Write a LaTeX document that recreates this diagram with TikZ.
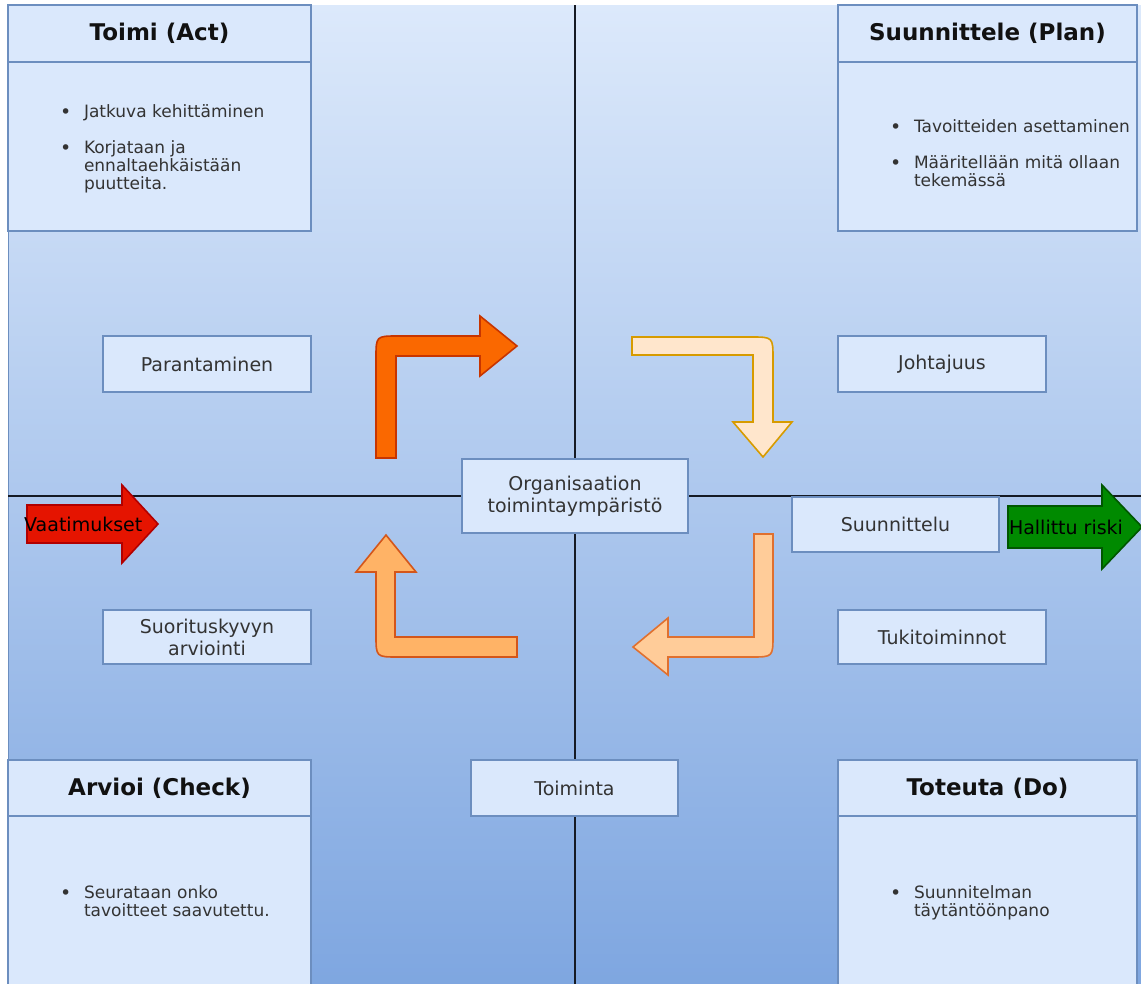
\documentclass[tikz,border=0pt]{standalone}
\usepackage{fontspec}
\setmainfont{DejaVu Sans}
\definecolor{boxfill}{HTML}{DAE8FC}
\definecolor{boxline}{HTML}{6C8EBF}
\definecolor{bgtop}{RGB}{220,233,251}
\definecolor{bgbot}{RGB}{126,166,224}
\definecolor{txtgray}{HTML}{333333}
\definecolor{ttlc}{HTML}{111111}
\definecolor{divc}{HTML}{151A24}
\definecolor{oaF}{HTML}{FA6800}
\definecolor{oaS}{HTML}{C73500}
\definecolor{obF}{HTML}{FFE6CC}
\definecolor{obS}{HTML}{D79B00}
\definecolor{ocF}{HTML}{FFCC99}
\definecolor{ocS}{HTML}{E0702F}
\definecolor{odF}{HTML}{FFB366}
\definecolor{odS}{HTML}{D4561A}
\definecolor{redF}{HTML}{E51400}
\definecolor{redS}{HTML}{B20000}
\definecolor{grnF}{HTML}{008A00}
\definecolor{grnS}{HTML}{005700}
\newcommand{\rbox}[7]{\node[#6,minimum width={#4-#2},minimum height={#5-#3}] (#1) at ({(#2+#4)/2},{(#3+#5)/2}) {#7};}
\newcommand{\blt}{\makebox[24pt][l]{\raisebox{-0.5pt}{\fontsize{19}{19}\selectfont\textbullet}}}
\begin{document}
\begin{tikzpicture}[x=1pt,y=-1pt,
  box/.style={draw=boxline,fill=boxfill,line width=1.4pt,inner sep=0pt,outer sep=0pt,align=center,text=txtgray},
  lbl/.style={box,font=\fontsize{19}{22}\selectfont},
  ttl/.style={box,font=\fontsize{23}{27}\selectfont\bfseries,text=ttlc},
  lst/.style={inner sep=0pt,outer sep=0pt,anchor=west,text=txtgray,font=\fontsize{17}{17}\selectfont},
  divider/.style={draw=divc,line width=2pt},
  bigarrow/.style={line width=1.6pt,line join=miter},
  alabel/.style={inner sep=0pt,font=\fontsize{19}{22}\selectfont,text=black}]
\useasboundingbox (0,0) rectangle (1141,983);
\clip (0,0) rectangle (1141,983);
% background
\path[top color=bgtop,bottom color=bgbot] (8,5) rectangle (1145,990);
\draw[boxline,line width=1pt] (8,5) -- (8,990);
% dividers
\coordinate (vt) at (575,5);
\coordinate (vb) at (575,990);
\coordinate (hl) at (8,495.5);
\coordinate (hr) at (1145,495.5);
\draw[divider] (vt) -- (vb);
\draw[divider] (hl) -- (hr);
% bent arrows
\path[draw=oaS,fill=oaF,bigarrow] (376,458) -- (376,358) .. controls (376,336) .. (398,336) -- (480,336) -- (480,316) -- (517,346) -- (480,376) -- (480,356) -- (396,356) -- (396,458) -- cycle;
\path[draw=obS,fill=obF,bigarrow] (632,337) -- (751,337) .. controls (773,337) .. (773,359) -- (773,422) -- (792,422) -- (763,457) -- (733,422) -- (753,422) -- (753,355) -- (632,355) -- cycle;
\path[draw=ocS,fill=ocF,bigarrow] (754,534) -- (773,534) -- (773,635) .. controls (773,657) .. (751,657) -- (668,657) -- (668,675) -- (633,647) -- (668,618) -- (668,637) -- (754,637) -- cycle;
\path[draw=odS,fill=odF,bigarrow] (517,637) -- (395,637) -- (395,572) -- (416,572) -- (386,535) -- (356,572) -- (376,572) -- (376,635) .. controls (376,657) .. (398,657) -- (517,657) -- cycle;
% straight arrows
\path[draw=redS,fill=redF,bigarrow] (27,505) -- (122,505) -- (122,485) -- (158,524) -- (122,563) -- (122,543) -- (27,543) -- cycle;
\node[alabel,anchor=west] (vaat) at (24,524) {Vaatimukset};
\path[draw=grnS,fill=grnF,bigarrow] (1008,506) -- (1102,506) -- (1102,485) -- (1142,527) -- (1102,569) -- (1102,548) -- (1008,548) -- cycle;
\node[alabel] (hall) at (1066,527) {Hallittu riski};
% quadrant boxes
\rbox{actT}{8}{5}{311}{62}{ttl}{Toimi (Act)}
\rbox{actB}{8}{62}{311}{231}{box}{}
\rbox{planT}{838}{5}{1137}{62}{ttl}{Suunnittele (Plan)}
\rbox{planB}{838}{62}{1137}{231}{box}{}
\rbox{checkT}{8}{760}{311}{816}{ttl}{Arvioi (Check)}
\rbox{checkB}{8}{816}{311}{995}{box}{}
\rbox{doT}{838}{760}{1137}{816}{ttl}{Toteuta (Do)}
\rbox{doB}{838}{816}{1137}{995}{box}{}
% lists
\node[lst] (actL) at (60,150) {\begin{tabular}{@{}l@{}l@{}}\blt&Jatkuva kehittäminen\\[18pt]\blt&Korjataan ja\\&ennaltaehkäistään\\&puutteita.\end{tabular}};
\node[lst] (planL) at (890,156) {\begin{tabular}{@{}l@{}l@{}}\blt&Tavoitteiden asettaminen\\[18pt]\blt&Määritellään mitä ollaan\\&tekemässä\end{tabular}};
\node[lst] (checkL) at (60,904) {\begin{tabular}{@{}l@{}l@{}}\blt&Seurataan onko\\&tavoitteet saavutettu.\end{tabular}};
\node[lst] (doL) at (890,904) {\begin{tabular}{@{}l@{}l@{}}\blt&Suunnitelman\\&täytäntöönpano\end{tabular}};
% labels
\rbox{par}{103}{336}{311}{392}{lbl}{Parantaminen}
\rbox{joh}{838}{336}{1046}{392}{lbl}{Johtajuus}
\rbox{suo}{103}{610}{311}{664}{lbl}{Suorituskyvyn\\arviointi}
\rbox{tuk}{838}{610}{1046}{664}{lbl}{Tukitoiminnot}
\rbox{org}{462}{459}{688}{533}{lbl}{Organisaation\\toimintaympäristö}
\rbox{suu}{792}{497}{999}{552}{lbl}{Suunnittelu}
\rbox{toi}{471}{760}{678}{816}{lbl}{Toiminta}
\end{tikzpicture}
\end{document}
